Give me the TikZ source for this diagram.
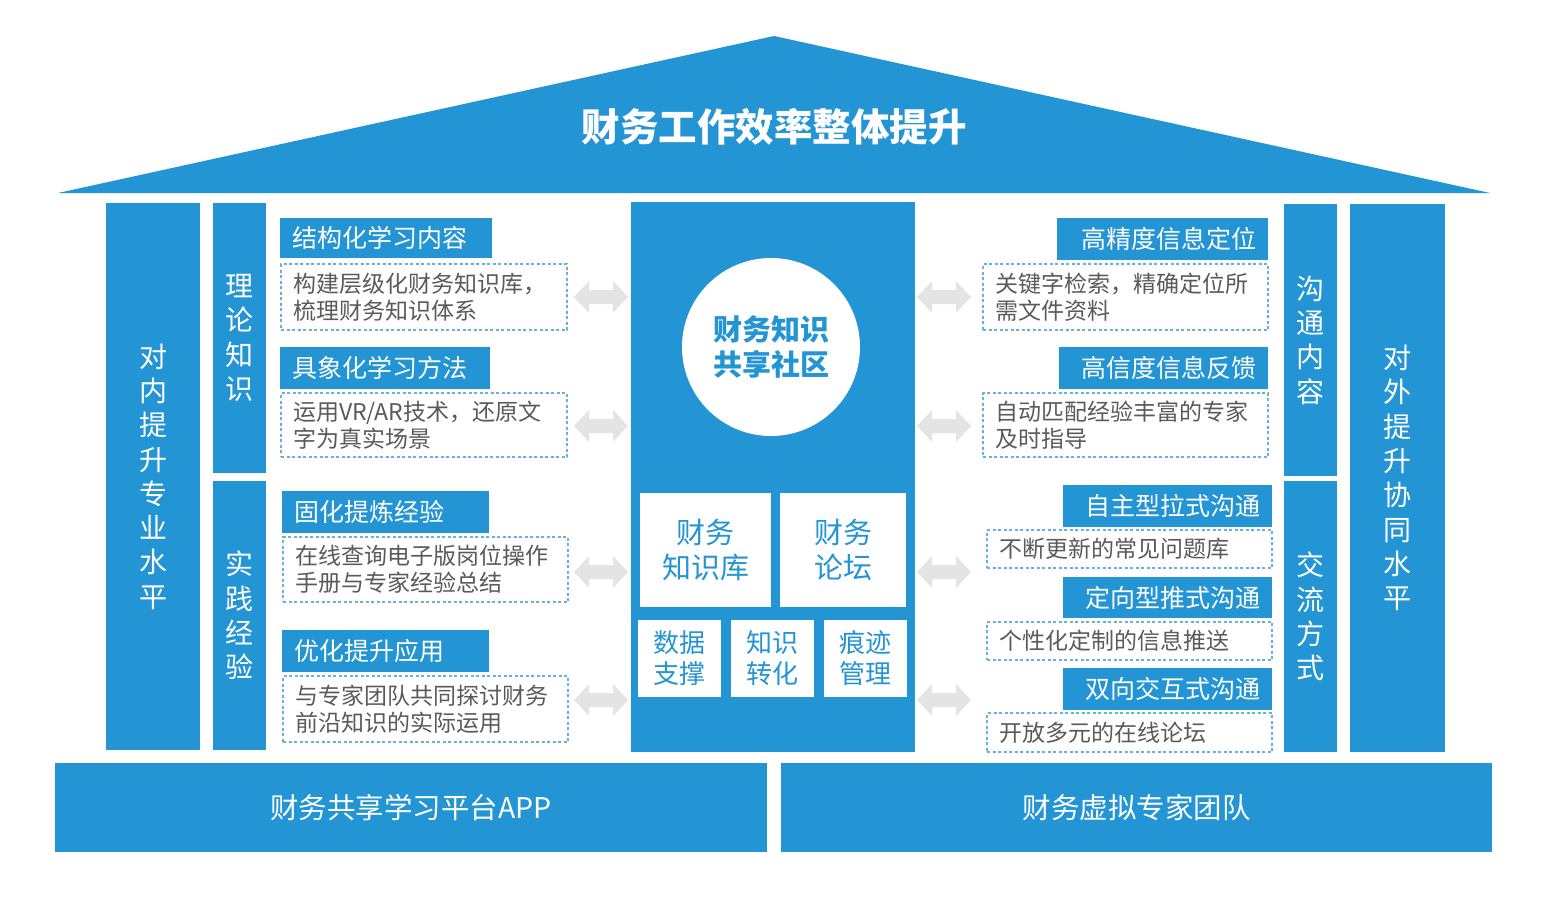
\documentclass[tikz,border=0pt]{standalone}
\usepackage{fontspec}
\setmainfont{Noto Sans CJK SC}
\definecolor{mainblue}{HTML}{2394D4}
\definecolor{dashblue}{HTML}{62B2E2}
\definecolor{txtgray}{HTML}{5A5A5A}
\definecolor{arrowgray}{HTML}{E4E4E4}
\newcommand{\mybox}[7]{%
  \pgfmathsetmacro{\bw}{#5-#3}\pgfmathsetmacro{\bh}{#6-#4}\pgfmathsetmacro{\tw}{#5-#3-24}%
  \node[#1, anchor=north west, minimum width=\bw pt, minimum height=\bh pt] (#2) at (#3,#4) {#7};}
\tikzset{
  blu/.style={fill=mainblue, inner ysep=0pt, inner xsep=12pt, outer sep=0pt, text=white},
  hdrL/.style={blu, font=\fontsize{25}{30}\selectfont, align=left, text width=\tw pt},
  hdrR/.style={blu, font=\fontsize{25}{30}\selectfont, align=right, text width=\tw pt},
  dbox/.style={fill=white, draw=dashblue, line width=1.5pt, dash pattern=on 3pt off 2.5pt,
     inner ysep=0pt, inner xsep=11pt, outer sep=0pt, text=txtgray,
     font=\fontsize{23}{27}\selectfont, align=left, text width=\tw pt},
  pillar/.style={blu, align=center, text width=\tw pt, inner xsep=12pt,
     font=\fontsize{28}{34.3}\selectfont},
  wbox/.style={fill=white, inner sep=0pt, outer sep=0pt, text=mainblue, align=center,
     text width=\tw pt, inner xsep=12pt},
  bwide/.style={blu, font=\fontsize{28.5}{34}\selectfont, align=center, text width=\tw pt},
  gdarrow/.pic={\fill[arrowgray] (-27,0) -- (-12,-16) -- (-12,-7) -- (12,-7) -- (12,-16)
     -- (27,0) -- (12,16) -- (12,7) -- (-12,7) -- (-12,16) -- cycle;},
}
\begin{document}
\begin{tikzpicture}[x=1pt,y=-1pt]
\useasboundingbox (0,0) rectangle (1548,916);
% roof
\fill[mainblue] (58,193) -- (774,36) -- (1490,193) -- cycle;
\node[text=white, font=\fontsize{38.5}{42}\selectfont\bfseries] (title) at (774,127) {财务工作效率整体提升};
% left pillars
\mybox{pillar}{pL}{106}{203}{200}{750}{对\\内\\提\\升\\专\\业\\水\\平}
\mybox{pillar}{pL1}{213}{203}{266}{473}{理\\论\\知\\识}
\mybox{pillar}{pL2}{213}{481}{266}{750}{实\\践\\经\\验}
% right pillars
\mybox{pillar}{pR1}{1284}{204}{1337}{476}{沟\\通\\内\\容}
\mybox{pillar}{pR2}{1284}{481}{1337}{752}{交\\流\\方\\式}
\mybox{pillar}{pR}{1350}{204}{1445}{752}{对\\外\\提\\升\\协\\同\\水\\平}
% left headers and boxes
\mybox{hdrL}{hL1}{280}{218}{492}{258}{结构化学习内容}
\mybox{dbox}{dL1}{281}{264}{567}{330}{构建层级化财务知识库，\\梳理财务知识体系}
\mybox{hdrL}{hL2}{280}{347}{490}{389}{具象化学习方法}
\mybox{dbox}{dL2}{281}{393}{567}{457}{运用VR/AR技术，还原文\\字为真实场景}
\mybox{hdrL}{hL3}{282}{491}{489}{533}{固化提炼经验}
\mybox{dbox}{dL3}{283}{537}{568}{602}{在线查询电子版岗位操作\\手册与专家经验总结}
\mybox{hdrL}{hL4}{282}{630}{489}{672}{优化提升应用}
\mybox{dbox}{dL4}{283}{676}{568}{742}{与专家团队共同探讨财务\\前沿知识的实际运用}
% right headers and boxes
\mybox{hdrR}{hR1}{1057}{218}{1268}{260}{高精度信息定位}
\mybox{dbox}{dR1}{983}{264}{1268}{330}{关键字检索，精确定位所\\需文件资料}
\mybox{hdrR}{hR2}{1059}{347}{1268}{389}{高信度信息反馈}
\mybox{dbox}{dR2}{983}{393}{1268}{457}{自动匹配经验丰富的专家\\及时指导}
\mybox{hdrR}{hR3}{1063}{485}{1272}{527}{自主型拉式沟通}
\mybox{dbox}{dR3}{987}{530}{1272}{568}{不断更新的常见问题库}
\mybox{hdrR}{hR4}{1063}{577}{1272}{618}{定向型推式沟通}
\mybox{dbox}{dR4}{987}{622}{1272}{660}{个性化定制的信息推送}
\mybox{hdrR}{hR5}{1063}{668}{1272}{710}{双向交互式沟通}
\mybox{dbox}{dR5}{987}{713}{1272}{752}{开放多元的在线论坛}
% center
\mybox{blu}{center}{631}{202}{915}{752}{}
\node[circle, fill=white, minimum size=178pt, inner sep=0pt, text=mainblue, align=center,
      font=\fontsize{29}{35}\selectfont\bfseries] (circ) at (771,347) {财务知识\\共享社区};
\mybox{wbox, font=\fontsize{29}{35}\selectfont}{w1}{640}{493}{771}{607}{财务\\知识库}
\mybox{wbox, font=\fontsize{29}{35}\selectfont}{w2}{780}{493}{906}{607}{财务\\论坛}
\mybox{wbox, inner xsep=4pt, font=\fontsize{26}{31}\selectfont}{w3}{638}{620}{721}{697}{数据\\支撑}
\mybox{wbox, inner xsep=4pt, font=\fontsize{26}{31}\selectfont}{w4}{731}{620}{814}{697}{知识\\转化}
\mybox{wbox, inner xsep=4pt, font=\fontsize{26}{31}\selectfont}{w5}{824}{620}{907}{697}{痕迹\\管理}
% gray double arrows
\pic (aL1) at (601,297) {gdarrow};
\pic (aL2) at (601,426) {gdarrow};
\pic (aL3) at (601,572) {gdarrow};
\pic (aL4) at (601,700) {gdarrow};
\pic (aR1) at (944,297) {gdarrow};
\pic (aR2) at (944,426) {gdarrow};
\pic (aR3) at (944,572) {gdarrow};
\pic (aR4) at (944,700) {gdarrow};
% bottom
\mybox{bwide}{bL}{55}{763}{767}{852}{财务共享学习平台APP}
\mybox{bwide}{bR}{781}{763}{1492}{852}{财务虚拟专家团队}
\end{tikzpicture}
\end{document}
